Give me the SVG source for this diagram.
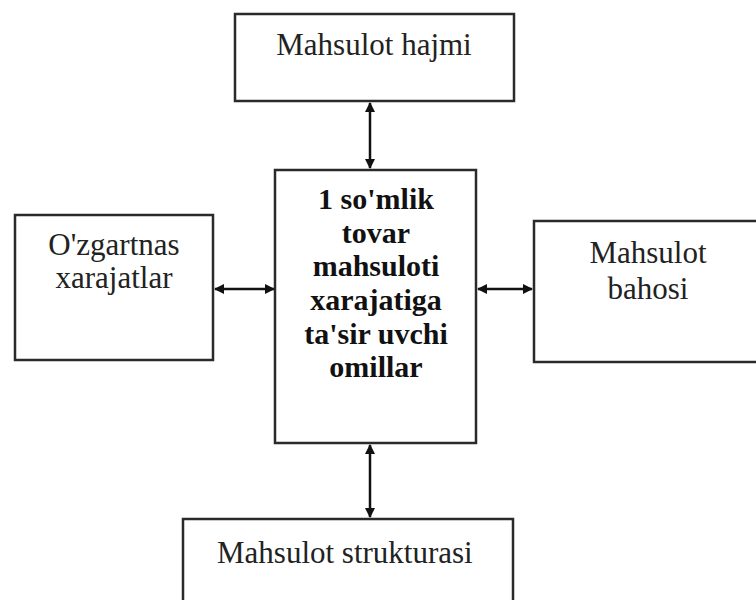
<svg xmlns="http://www.w3.org/2000/svg" width="756" height="600" viewBox="0 0 756 600">
<defs>
<marker id="ah" viewBox="0 0 10 10" refX="9" refY="5" markerWidth="10" markerHeight="10" markerUnits="userSpaceOnUse" orient="auto-start-reverse">
<path d="M0,0 L10,5 L0,10 Z" fill="#111"/>
</marker>
<style>
.box{fill:#fff;stroke:#2a2a2a;stroke-width:2.5}
.t{font-family:"Liberation Serif","Times New Roman",serif;font-size:31px;fill:#222;text-anchor:middle}
.b{font-family:"Liberation Serif","Times New Roman",serif;font-size:30px;font-weight:bold;fill:#111;text-anchor:middle}
.c{stroke:#111;stroke-width:2.5;fill:none;marker-start:url(#ah);marker-end:url(#ah)}
</style>
</defs>
<rect width="756" height="600" fill="#fff"/>
<g id="connectors">
<line class="c" x1="370" y1="103" x2="370" y2="168"/>
<line class="c" x1="215" y1="289" x2="274" y2="289"/>
<line class="c" x1="478" y1="289" x2="532" y2="289"/>
<line class="c" x1="370" y1="445" x2="370" y2="517"/>
</g>
<g id="top">
<rect class="box" x="235" y="14" width="279" height="87"/>
<text class="t" x="374" y="55">Mahsulot hajmi</text>
</g>
<g id="center">
<rect class="box" x="275" y="170" width="201" height="273"/>
<text class="b" x="376" y="209">1 so'mlik</text>
<text class="b" x="376" y="243">tovar</text>
<text class="b" x="376" y="276">mahsuloti</text>
<text class="b" x="376" y="310">xarajatiga</text>
<text class="b" x="376" y="344">ta'sir uvchi</text>
<text class="b" x="376" y="377">omillar</text>
</g>
<g id="left">
<rect class="box" x="15" y="215" width="198" height="145"/>
<text class="t" x="114" y="255">O'zgartnas</text>
<text class="t" x="114" y="288">xarajatlar</text>
</g>
<g id="right">
<rect class="box" x="534" y="221" width="240" height="141"/>
<text class="t" x="648" y="263">Mahsulot</text>
<text class="t" x="648" y="299">bahosi</text>
</g>
<g id="bottom">
<rect class="box" x="183" y="519" width="330" height="100"/>
<text class="t" x="217" y="563" style="text-anchor:start">Mahsulot strukturasi</text>
</g>
</svg>
